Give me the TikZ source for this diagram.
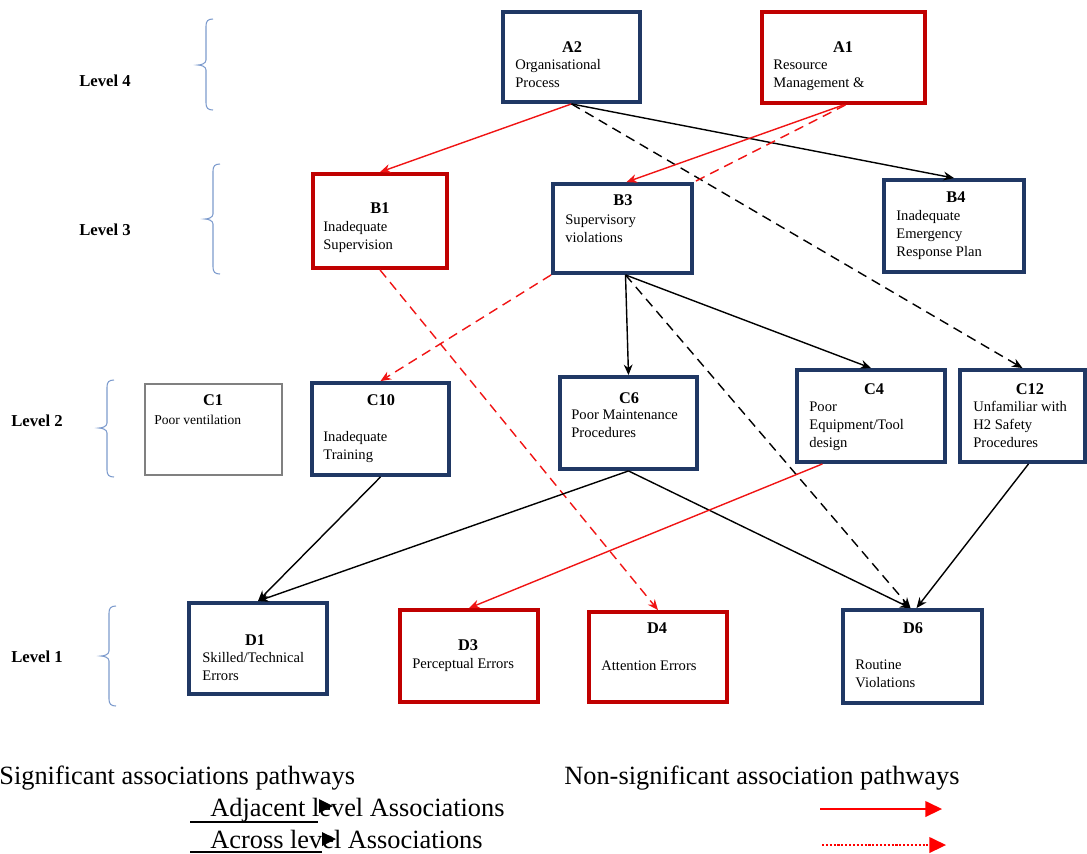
\documentclass[tikz,border=0pt]{standalone}
\usepackage{fontspec}
\setmainfont{Liberation Serif}
\usetikzlibrary{arrows.meta,fit,calc}

\definecolor{navy}{RGB}{32,56,100}
\definecolor{boxred}{RGB}{192,0,0}
\definecolor{arrowred}{RGB}{240,20,20}
\definecolor{bracecol}{RGB}{125,155,205}
\definecolor{c1gray}{RGB}{128,128,128}

\tikzset{
  navybox/.style={draw=navy, line width=2.2pt, inner sep=0pt},
  redbox/.style={draw=boxred, line width=2.2pt, inner sep=0pt},
  greybox/.style={draw=c1gray, line width=0.7pt, inner sep=0pt},
  ttl/.style={font=\fontsize{9.3}{10}\selectfont\bfseries, anchor=base, inner sep=0pt},
  % multi-line descriptions are placed by the baseline of their last line
  dsc/.style={font=\fontsize{8.3}{10.2}\selectfont, anchor=base west, align=left, inner sep=0pt},
  lvl/.style={font=\fontsize{9.5}{11}\selectfont\bfseries, anchor=base west, inner sep=0pt},
  leg/.style={font=\fontsize{15}{18}\selectfont, anchor=base west, inner sep=0pt},
  link/.style={-{Stealth[length=6pt,width=5pt]}, line width=0.8pt},
  blk/.style={link, draw=black},
  rd/.style={link, draw=arrowred, arrows={-{Stealth[length=6pt,width=5pt,fill=arrowred]}}},
  dsh/.style={dash pattern=on 5.5pt off 3.5pt},
  brace/.style={draw=bracecol, line width=0.6pt},
}

% curly bracket opening to the right: x, top, tip, bottom
\newcommand\levelbrace[4]{%
  \draw[brace] (#1+7,#2) .. controls (#1+2,#2) and (#1,#2+2) .. (#1,#2+7)
    -- (#1,#3-5) .. controls (#1,#3-2) and (#1-4,#3) .. (#1-8,#3)
    .. controls (#1-4,#3) and (#1,#3+2) .. (#1,#3+5)
    -- (#1,#4-7) .. controls (#1,#4-2) and (#1+2,#4) .. (#1+7,#4);}

\begin{document}
\begin{tikzpicture}[x=0.02cm, y=-0.02cm]
\useasboundingbox (0,0) rectangle (1087,853);

% ---------- level labels and brackets ----------
\node[lvl] (L4) at (79,86) {Level 4};
\node[lvl] (L3) at (79,235) {Level 3};
\node[lvl] (L2) at (11,426) {Level 2};
\node[lvl] (L1) at (11,662) {Level 1};
\levelbrace{206}{19}{65}{110}
\levelbrace{213}{164}{219}{274}
\levelbrace{107}{380}{428}{477}
\levelbrace{109}{606}{656}{706}

% ---------- level 4 ----------
\node[navybox, fit={(503,12) (640,102)}] (A2) {};
\node[ttl] (A2t) at (572,52) {A2};
\node[dsc] (A2d) at (515,87) {Organisational\\Process};

\node[redbox, fit={(762,12) (925,103)}] (A1) {};
\node[ttl] (A1t) at (843,52) {A1};
\node[dsc] (A1d) at (773,87) {Resource\\Management \&};

% ---------- level 3 ----------
\node[redbox, fit={(313,174) (447,268)}] (B1) {};
\node[ttl] (B1t) at (380,213) {B1};
\node[dsc] (B1d) at (323,249) {Inadequate\\Supervision};

\node[navybox, fit={(553,184) (692,273)}] (B3) {};
\node[ttl] (B3t) at (623,205) {B3};
\node[dsc] (B3d) at (565,242) {Supervisory\\violations};

\node[navybox, fit={(884,180) (1024,272)}] (B4) {};
\node[ttl] (B4t) at (956,202) {B4};
\node[dsc] (B4d) at (896,256) {Inadequate\\Emergency\\Response Plan};

% ---------- level 2 ----------
\node[greybox, fit={(145,384) (282,475)}] (C1) {};
\node[ttl] (C1t) at (213,405) {C1};
\node[dsc, font=\fontsize{7.7}{9.5}\selectfont] (C1d) at (154,424) {Poor ventilation};

\node[navybox, fit={(312,383) (449,475)}] (C10) {};
\node[ttl] (C10t) at (381,405) {C10};
\node[dsc] (C10d) at (323,459) {Inadequate\\Training};

\node[navybox, fit={(560,377) (697,469)}] (C6) {};
\node[ttl] (C6t) at (629,403) {C6};
\node[dsc] (C6d) at (571,437) {Poor Maintenance\\Procedures};

\node[navybox, fit={(797,370) (945,462)}] (C4) {};
\node[ttl] (C4t) at (874,394) {C4};
\node[dsc] (C4d) at (809,447) {Poor\\Equipment/Tool\\design};

\node[navybox, fit={(960,370) (1085,462)}] (C12) {};
\node[ttl] (C12t) at (1030,394) {C12};
\node[dsc] (C12d) at (973,447) {Unfamiliar with\\H2 Safety\\Procedures};

% ---------- level 1 ----------
\node[navybox, fit={(189,603) (327,694)}] (D1) {};
\node[ttl] (D1t) at (255,645) {D1};
\node[dsc] (D1d) at (202,680) {Skilled/Technical\\Errors};

\node[redbox, fit={(400,610) (538,702)}] (D3) {};
\node[ttl] (D3t) at (468,650) {D3};
\node[dsc] (D3d) at (412,668) {Perceptual Errors};

\node[redbox, fit={(589,612) (727,702)}] (D4) {};
\node[ttl] (D4t) at (657,633) {D4};
\node[dsc] (D4d) at (601,670) {Attention Errors};

\node[navybox, fit={(843,610) (982,703)}] (D6) {};
\node[ttl] (D6t) at (913,633) {D6};
\node[dsc] (D6d) at (855,687) {Routine\\Violations};

% ---------- pathways ----------
\draw[rd] (A2.south) -- (B1.north);
\draw[blk] (A2.south) -- (B4.north);
\draw[blk, dsh] (A2.south) -- (C12.north);
\draw[rd] (A1.south) -- ($(B3.north)+(4,0)$);
\draw[draw=arrowred, line width=0.8pt, dsh] ($(A1.south)+(2,0)$) -- (B3.north east);
\draw[rd, dsh] (B1.south) -- (D4.north);
\draw[rd, dsh] (B3.south west) -- (C10.north);
\draw[blk] ($(B3.south)+(3,0)$) -- (C6.north);
\draw[blk] ($(B3.south)+(3,0)$) -- (C4.north);
\draw[blk, dsh] ($(B3.south)+(3,0)$) -- ($(D6.north)+(-2,0)$);
\draw[blk] (C10.south) -- (D1.north);
\draw[blk] (C6.south) -- (D1.north);
\draw[blk] (C6.south) -- ($(D6.north)+(-2,0)$);
\draw[rd] ($(C4.south west)!0.18!(C4.south east)$) -- (D3.north);
\draw[blk] ($(C12.south)+(6,0)$) -- ($(D6.north)+(4,0)$);

% ---------- legend ----------
\node[leg] (sig) at (-1,784) {Significant associations pathways};
\node[leg] (adj) at (210,816) {Adjacent level Associations};
\node[leg] (acr) at (210,848) {Across level Associations};
\node[leg] (nsig) at (564,784) {Non-significant association pathways};

\coordinate (u1a) at (190,822); \coordinate (u1b) at (318,822);
\coordinate (u2a) at (190,852); \coordinate (u2b) at (322,852);
\draw[line width=1pt] (u1a) -- (u1b);
\draw[line width=1pt] (u2a) -- (u2b);
\fill (319,799) -- (333,806) -- (319,813) -- cycle;
\fill (322,832) -- (336,839) -- (322,846) -- cycle;

\coordinate (n1a) at (820,809); \coordinate (n1b) at (942,809);
\coordinate (n2a) at (822,845); \coordinate (n2b) at (946,845);
\draw[draw=red, line width=0.8pt, -{Triangle[length=9.5pt,width=9pt,fill=red]}] (n1a) -- (n1b);
\draw[draw=red, line width=0.8pt, dash pattern=on 1.2pt off 1pt, -{Triangle[length=9.5pt,width=9pt,fill=red]}] (n2a) -- (n2b);
\end{tikzpicture}
\end{document}
